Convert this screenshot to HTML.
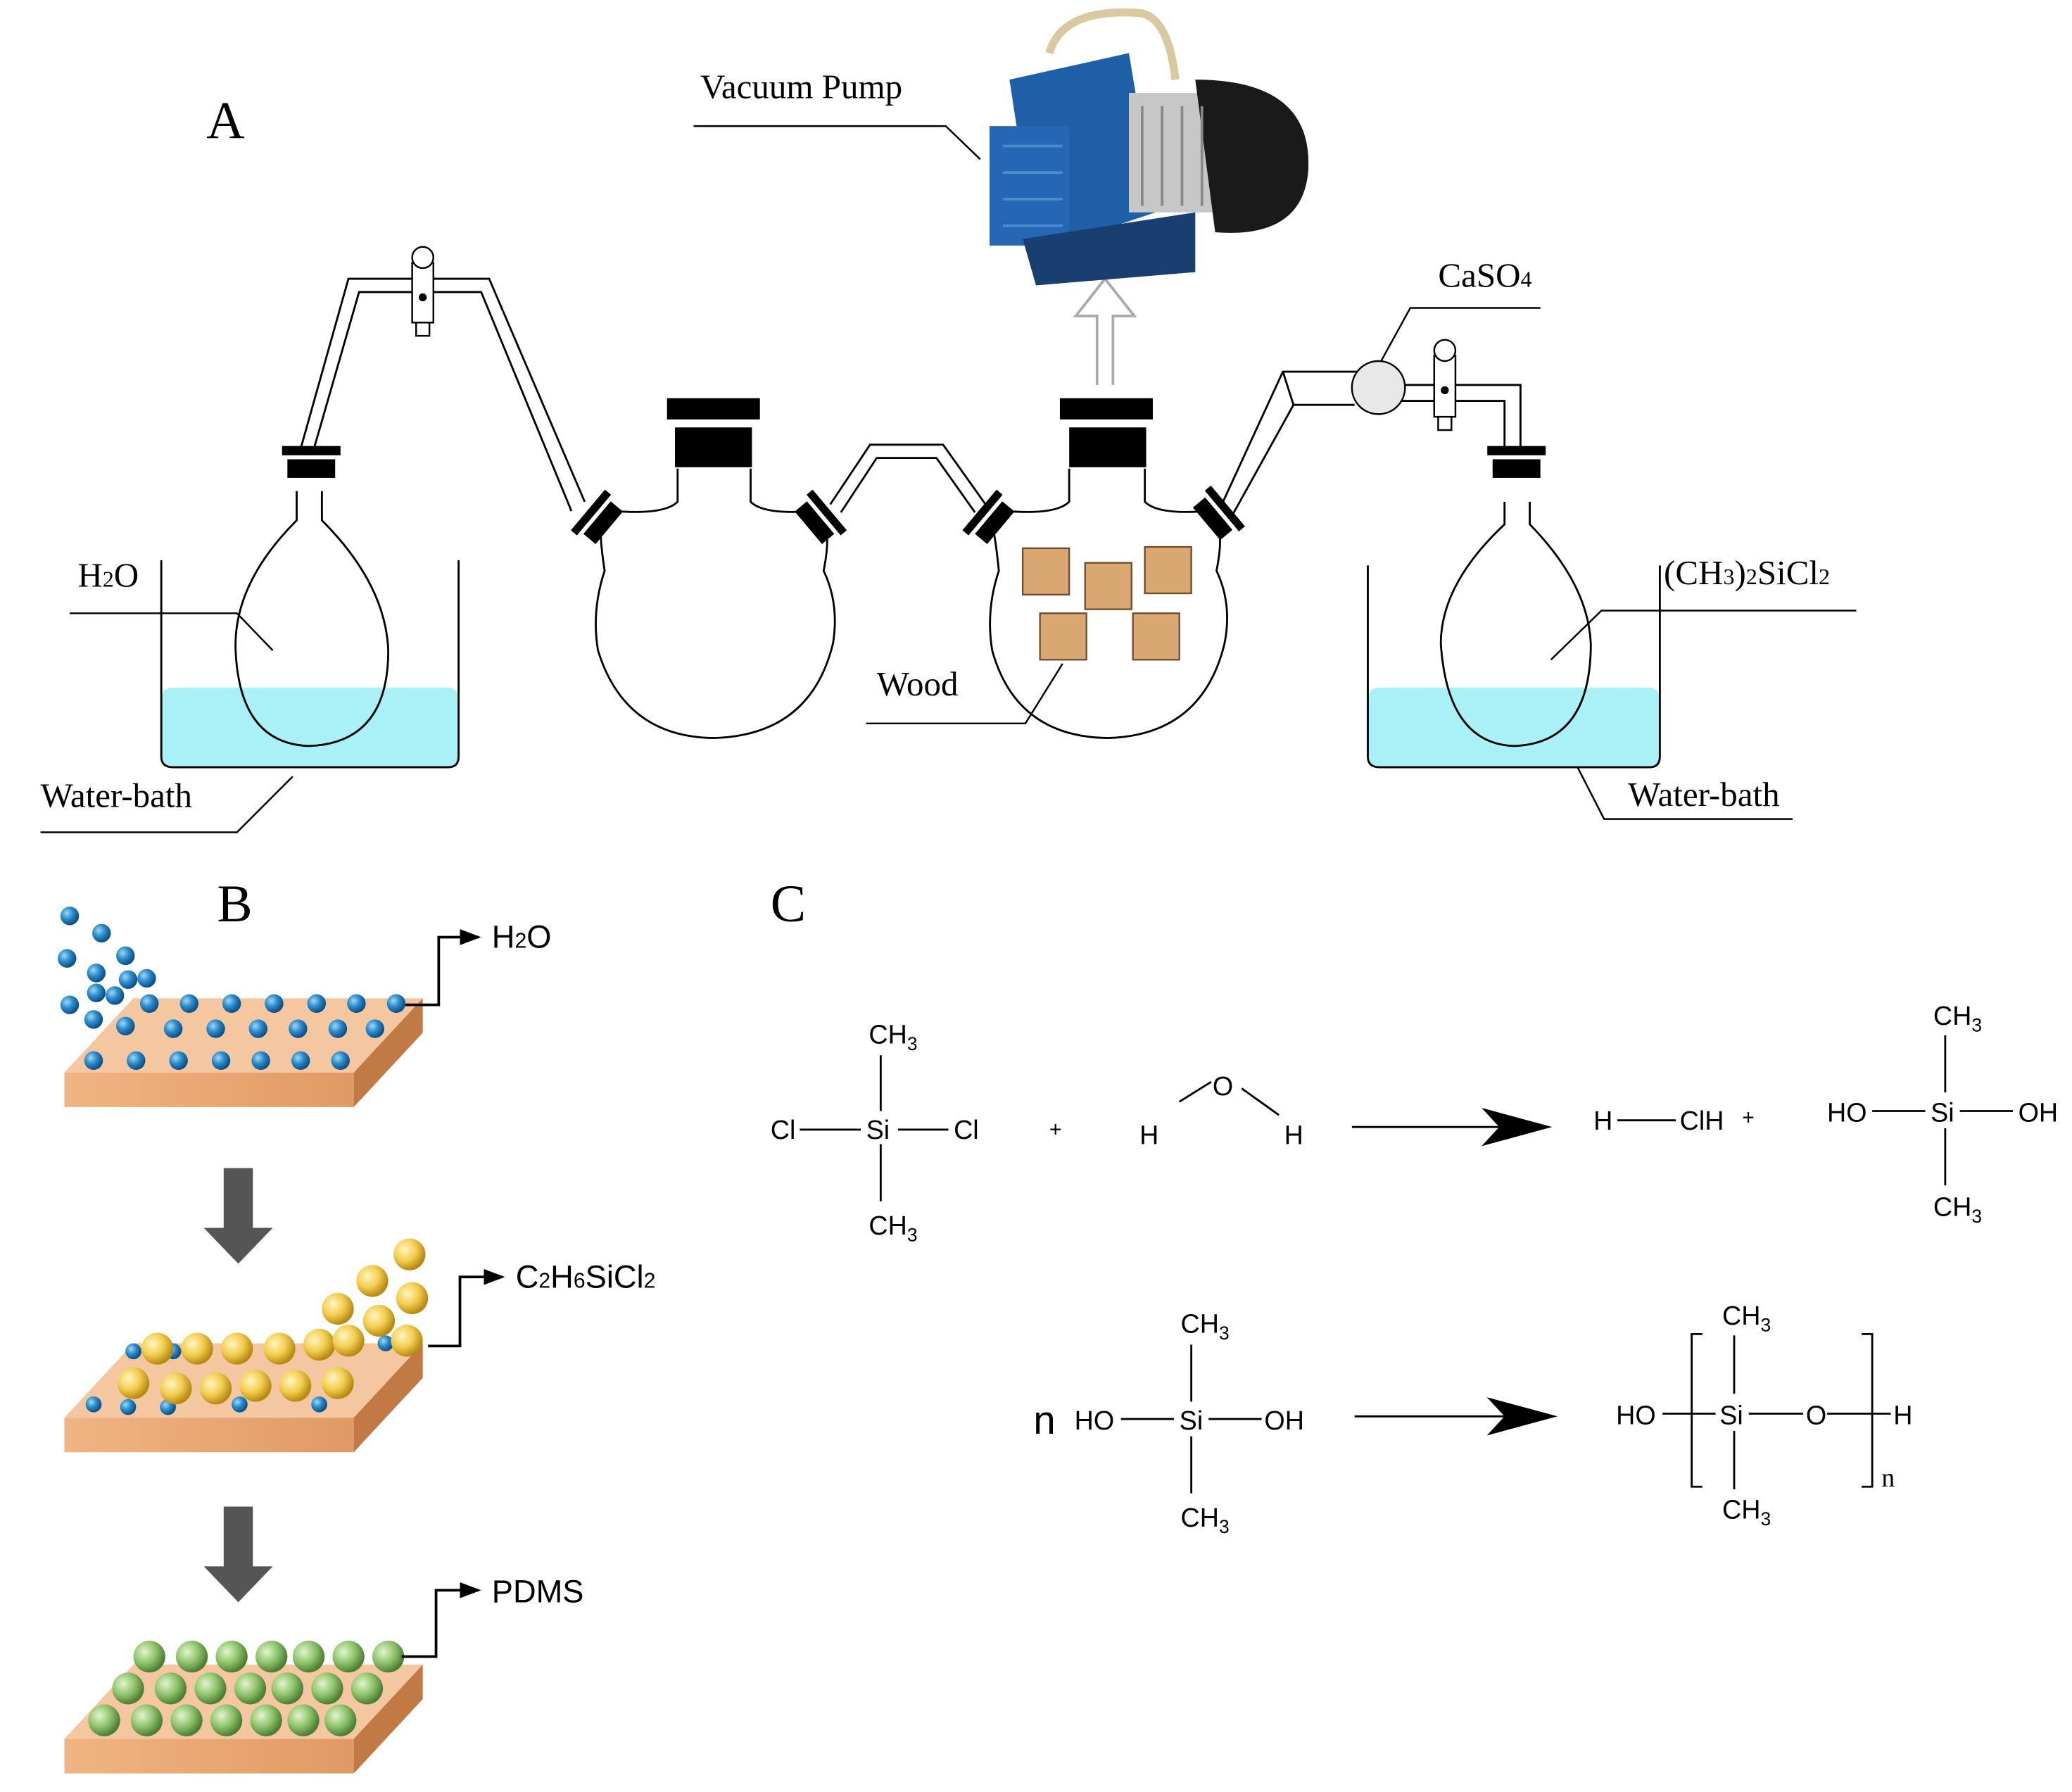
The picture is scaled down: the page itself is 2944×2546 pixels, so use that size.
<!DOCTYPE html>
<html><head><meta charset="utf-8"><style>html,body{margin:0;padding:0;background:#fff}svg{display:block}</style></head><body>
<svg width="2944" height="2546" viewBox="0 0 1560 1350" xmlns="http://www.w3.org/2000/svg">
<defs>
<radialGradient id="bl" cx="35%" cy="35%" r="65%"><stop offset="0" stop-color="#9fd8f5"/><stop offset=".5" stop-color="#2a8ccc"/><stop offset="1" stop-color="#0d4f86"/></radialGradient>
<radialGradient id="ye" cx="35%" cy="35%" r="65%"><stop offset="0" stop-color="#fff6c0"/><stop offset=".55" stop-color="#f2cd4e"/><stop offset="1" stop-color="#b88a12"/></radialGradient>
<radialGradient id="gr" cx="35%" cy="35%" r="65%"><stop offset="0" stop-color="#e2f5cc"/><stop offset=".55" stop-color="#8fc46c"/><stop offset="1" stop-color="#4d7f34"/></radialGradient>
<linearGradient id="wt" x1="0" y1="0" x2="1" y2="0"><stop offset="0" stop-color="#f0b483"/><stop offset="1" stop-color="#e09a64"/></linearGradient>
<marker id="ah" markerWidth="8" markerHeight="8" refX="7" refY="4" orient="auto"><path d="M0,1 L8,4 L0,7z" fill="#000"/></marker>
<marker id="big" markerWidth="10" markerHeight="6" refX="10" refY="3" orient="auto" markerUnits="userSpaceOnUse"><path d="M0,0 L10,3 L0,6 L3,3z" fill="#000"/></marker>
</defs>
<g font-family="Liberation Serif, serif" fill="#000">
<text x="155" y="104" font-size="40">A</text>
<text x="527" y="74" font-size="26">Vacuum Pump</text>
<text x="58" y="442" font-size="26">H<tspan font-size="17">2</tspan>O</text>
<text x="30" y="608" font-size="26">Water-bath</text>
<text x="660" y="524" font-size="26">Wood</text>
<text x="1083" y="216" font-size="26">CaSO<tspan font-size="17">4</tspan></text>
<text x="1253" y="440" font-size="26">(CH<tspan font-size="17">3</tspan>)<tspan font-size="17">2</tspan>SiCl<tspan font-size="17">2</tspan></text>
<text x="1226" y="607" font-size="26">Water-bath</text>
<text x="163" y="694" font-size="40">B</text>
<text x="580" y="694" font-size="40">C</text>
</g>
<g fill="none" stroke="#000" stroke-width="1.3">
<!-- leader lines -->
<path d="M522,95 H712 L738,120"/>
<path d="M52,462 H178 L205,490"/>
<path d="M30,627 H178 L220,585"/>
<path d="M652,545 H772 L800,500"/>
<path d="M1160,232 H1062 L1040,272"/>
<path d="M1398,460 H1206 L1168,497"/>
<path d="M1350,617 H1208 L1188,578"/>
</g>
<!-- beakers -->
<rect x="121" y="518" width="224" height="60" rx="8" fill="#a9f1f6"/>
<rect x="1030" y="518" width="220" height="60" rx="8" fill="#a9f1f6"/>
<g fill="none" stroke="#000" stroke-width="1.5">
<path d="M121,422 V570 Q121,578 130,578 H337 Q345,578 345,570 V422"/>
<path d="M1030,426 V570 Q1030,578 1039,578 H1242 Q1250,578 1250,570 V426"/>
<!-- left flask -->
<path d="M223,370 V392 Q175,440 177,490 Q180,560 232,562 Q292,560 292,490 Q290,440 242,392 V370"/>
<!-- right flask -->
<path d="M1133,378 V395 Q1085,440 1085,485 Q1090,560 1140,562 Q1198,560 1198,485 Q1196,440 1152,395 V378"/>
<!-- flask1 -->
<path d="M510,353 V378 Q500,388 462,385 L452,400 Q452,410 455,430 Q445,460 450,490 Q470,555 537,556 Q610,554 627,485 Q632,455 620,430 Q624,410 622,400 L612,385 Q575,388 565,378 V353"/>
<!-- flask2 -->
<path d="M805,353 V378 Q795,388 758,385 L748,400 Q750,410 752,430 Q742,460 747,490 Q765,555 834,556 Q905,554 922,485 Q928,455 916,430 Q920,410 918,400 L908,385 Q872,388 862,378 V353"/>
<!-- tubes -->
<path d="M226,338 L262,210 H368 L440,378"/>
<path d="M236,338 L270,220 H362 L430,385"/>
<path d="M625,380 L655,335 H710 L742,380"/>
<path d="M633,386 L660,345 H705 L734,386"/>
<path d="M920,380 L966,280 H1022"/>
<path d="M928,388 L974,305 H1020"/>
<path d="M1055,290 H1145 V338"/>
<path d="M1055,302 H1133 V338"/>
<path d="M966,280 L974,305"/>
</g>
<!-- stoppers -->
<g fill="#000">
<rect x="212" y="336" width="44" height="7"/><rect x="216" y="346" width="36" height="14"/>
<rect x="1120" y="336" width="44" height="7"/><rect x="1124" y="346" width="36" height="14"/>
<rect x="502" y="300" width="70" height="16"/><rect x="508" y="322" width="58" height="30"/>
<rect x="798" y="300" width="70" height="16"/><rect x="805" y="322" width="58" height="30"/>
<g transform="translate(447,388) rotate(-50)"><rect x="-20" y="-6" width="40" height="6"/><rect x="-16" y="3" width="32" height="12"/></g>
<g transform="translate(620,388) rotate(50)"><rect x="-20" y="-6" width="40" height="6"/><rect x="-16" y="3" width="32" height="12"/></g>
<g transform="translate(742,388) rotate(-50)"><rect x="-20" y="-6" width="40" height="6"/><rect x="-16" y="3" width="32" height="12"/></g>
<g transform="translate(920,385) rotate(50)"><rect x="-20" y="-6" width="40" height="6"/><rect x="-16" y="3" width="32" height="12"/></g>
</g>
<!-- valves -->
<g fill="#fff" stroke="#000" stroke-width="1.3">
<rect x="310" y="198" width="16" height="45"/><circle cx="318" cy="194" r="8"/><rect x="313" y="243" width="10" height="10"/>
<rect x="1080" y="268" width="16" height="46"/><circle cx="1088" cy="264" r="8"/><rect x="1083" y="314" width="10" height="10"/>
<circle cx="1038" cy="292" r="20" fill="#e8e8e8"/>
</g>
<circle cx="318" cy="224" r="3"/><circle cx="1088" cy="294" r="3"/>
<!-- hollow arrow -->
<path d="M826,290 V238 H810 L832,210 L854,238 H838 V290" fill="#fff" stroke="#aaa" stroke-width="2"/>
<!-- pump -->
<path d="M790,40 Q800,5 860,10 Q880,15 885,60" fill="none" stroke="#d8c9a0" stroke-width="6"/>
<path d="M760,60 L850,40 L870,160 L780,190z" fill="#1f5fa8"/>
<rect x="745" y="95" width="60" height="90" fill="#2468b5"/>
<path d="M770,180 L900,160 L900,205 L780,215z" fill="#183f70"/>
<rect x="850" y="70" width="70" height="90" fill="#c7c7c7"/>
<path d="M900,60 Q990,60 985,130 Q980,180 915,175z" fill="#1a1a1a"/>
<g stroke="#888" stroke-width="2"><line x1="860" y1="80" x2="860" y2="155"/><line x1="875" y1="80" x2="875" y2="155"/><line x1="890" y1="80" x2="890" y2="155"/><line x1="905" y1="80" x2="905" y2="155"/></g>
<g stroke="#4a8ad0" stroke-width="2"><line x1="755" y1="110" x2="800" y2="110"/><line x1="755" y1="130" x2="800" y2="130"/><line x1="755" y1="150" x2="800" y2="150"/><line x1="755" y1="170" x2="800" y2="170"/></g>
<!-- wood blocks -->
<g fill="#d9a872" stroke="#6b4a2a" stroke-width="1.2">
<rect x="770" y="413" width="35" height="35"/><rect x="817" y="424" width="35" height="35"/><rect x="862" y="412" width="35" height="35"/>
<rect x="783" y="462" width="35" height="35"/><rect x="853" y="462" width="35" height="35"/>
</g>
<!-- B section plates -->
<g id="p1">
<path d="M48,808 L100,752 H318 L266,808z" fill="#f4c7a0"/>
<rect x="48" y="808" width="218" height="26" fill="url(#wt)"/>
<path d="M266,808 L318,752 V778 L266,834z" fill="#c27a45"/>
</g>
<path d="M48,1068 L100,1012 H318 L266,1068z" fill="#f4c7a0"/>
<rect x="48" y="1068" width="218" height="26" fill="url(#wt)"/>
<path d="M266,1068 L318,1012 V1038 L266,1094z" fill="#c27a45"/>
<path d="M48,1310 L100,1254 H318 L266,1310z" fill="#f4c7a0"/>
<rect x="48" y="1310" width="218" height="26" fill="url(#wt)"/>
<path d="M266,1310 L318,1254 V1280 L266,1336z" fill="#c27a45"/>
<!-- blue dots plate1 -->
<g fill="url(#bl)">
<circle cx="52" cy="690" r="7"/><circle cx="76" cy="703" r="7"/><circle cx="50" cy="722" r="7"/><circle cx="94" cy="720" r="7"/><circle cx="72" cy="733" r="7"/><circle cx="96" cy="738" r="7"/><circle cx="110" cy="737" r="7"/><circle cx="72" cy="748" r="7"/><circle cx="86" cy="750" r="7"/><circle cx="52" cy="757" r="7"/><circle cx="70" cy="768" r="7"/><circle cx="94" cy="773" r="7"/>
<circle cx="112" cy="756" r="7"/><circle cx="142" cy="756" r="7"/><circle cx="174" cy="756" r="7"/><circle cx="206" cy="756" r="7"/><circle cx="238" cy="756" r="7"/><circle cx="268" cy="756" r="7"/><circle cx="298" cy="756" r="7"/>
<circle cx="130" cy="775" r="7"/><circle cx="162" cy="775" r="7"/><circle cx="194" cy="775" r="7"/><circle cx="224" cy="775" r="7"/><circle cx="254" cy="775" r="7"/><circle cx="282" cy="775" r="7"/>
<circle cx="70" cy="799" r="7"/><circle cx="102" cy="799" r="7"/><circle cx="134" cy="799" r="7"/><circle cx="166" cy="799" r="7"/><circle cx="196" cy="799" r="7"/><circle cx="226" cy="799" r="7"/><circle cx="256" cy="799" r="7"/>
<circle cx="100" cy="1018" r="6"/><circle cx="130" cy="1018" r="6"/><circle cx="70" cy="1058" r="6"/><circle cx="96" cy="1060" r="6"/><circle cx="126" cy="1060" r="6"/><circle cx="180" cy="1058" r="6"/><circle cx="240" cy="1058" r="6"/><circle cx="290" cy="1012" r="6"/>
</g>
<g fill="url(#ye)">
<circle cx="308" cy="945" r="12"/><circle cx="280" cy="965" r="12"/><circle cx="310" cy="978" r="12"/><circle cx="254" cy="986" r="12"/><circle cx="285" cy="995" r="12"/><circle cx="306" cy="1010" r="12"/>
<circle cx="118" cy="1016" r="12"/><circle cx="148" cy="1016" r="12"/><circle cx="178" cy="1016" r="12"/><circle cx="210" cy="1016" r="12"/><circle cx="240" cy="1013" r="12"/><circle cx="262" cy="1010" r="12"/>
<circle cx="100" cy="1042" r="12"/><circle cx="132" cy="1046" r="12"/><circle cx="162" cy="1046" r="12"/><circle cx="192" cy="1044" r="12"/><circle cx="222" cy="1044" r="12"/><circle cx="254" cy="1042" r="12"/>
</g>
<g fill="url(#gr)">
<circle cx="112" cy="1248" r="12"/><circle cx="144" cy="1248" r="12"/><circle cx="174" cy="1248" r="12"/><circle cx="204" cy="1248" r="12"/><circle cx="232" cy="1248" r="12"/><circle cx="262" cy="1248" r="12"/><circle cx="292" cy="1248" r="12"/>
<circle cx="96" cy="1272" r="12"/><circle cx="128" cy="1272" r="12"/><circle cx="158" cy="1272" r="12"/><circle cx="188" cy="1272" r="12"/><circle cx="216" cy="1272" r="12"/><circle cx="246" cy="1272" r="12"/><circle cx="276" cy="1272" r="12"/>
<circle cx="78" cy="1296" r="12"/><circle cx="110" cy="1296" r="12"/><circle cx="140" cy="1296" r="12"/><circle cx="170" cy="1296" r="12"/><circle cx="200" cy="1296" r="12"/><circle cx="228" cy="1296" r="12"/><circle cx="256" cy="1296" r="12"/>
</g>
<!-- gray arrows -->
<path d="M168,880 H190 V925 H205 L179,952 L153,925 H168z" fill="#555"/>
<path d="M168,1135 H190 V1180 H205 L179,1207 L153,1180 H168z" fill="#555"/>
<!-- B labels -->
<g fill="none" stroke="#000" stroke-width="2">
<path d="M305,757 H330 V706 H360" marker-end="url(#ah)"/>
<path d="M322,1014 H346 V962 H378" marker-end="url(#ah)"/>
<path d="M302,1248 H328 V1198 H360" marker-end="url(#ah)"/>
</g>
<g font-family="Liberation Sans, sans-serif" font-size="24" fill="#000">
<text x="370" y="714">H<tspan font-size="16">2</tspan>O</text>
<text x="388" y="970">C<tspan font-size="16">2</tspan>H<tspan font-size="16">6</tspan>SiCl<tspan font-size="16">2</tspan></text>
<text x="370" y="1207">PDMS</text>
</g>
<!-- C chemistry -->
<g font-family="Liberation Sans, sans-serif" font-size="20" fill="#000">
<text x="654" y="786">CH<tspan font-size="14" dy="5">3</tspan></text>
<text x="580" y="858">Cl</text><text x="652" y="858">Si</text><text x="718" y="858">Cl</text>
<text x="654" y="930">CH<tspan font-size="14" dy="5">3</tspan></text>
<text x="790" y="856" font-size="16">+</text>
<text x="858" y="862">H</text><text x="913" y="825">O</text><text x="967" y="862">H</text>
<text x="1200" y="851">H</text><text x="1265" y="851">ClH</text><text x="1312" y="847" font-size="16">+</text>
<text x="1456" y="772">CH<tspan font-size="14" dy="5">3</tspan></text>
<text x="1376" y="845">HO</text><text x="1454" y="845">Si</text><text x="1520" y="845">OH</text>
<text x="1456" y="916">CH<tspan font-size="14" dy="5">3</tspan></text>
<text x="778" y="1080" font-size="30">n</text>
<text x="889" y="1004">CH<tspan font-size="14" dy="5">3</tspan></text>
<text x="809" y="1077">HO</text><text x="888" y="1077">Si</text><text x="952" y="1077">OH</text>
<text x="889" y="1150">CH<tspan font-size="14" dy="5">3</tspan></text>
<text x="1297" y="998">CH<tspan font-size="14" dy="5">3</tspan></text>
<text x="1217" y="1073">HO</text><text x="1295" y="1073">Si</text><text x="1360" y="1073">O</text><text x="1426" y="1073">H</text>
<text x="1297" y="1144">CH<tspan font-size="14" dy="5">3</tspan></text>
<text x="1417" y="1120" font-family="Liberation Serif, serif">n</text>
</g>
<g stroke="#000" stroke-width="1.5" fill="none">
<line x1="663" y1="795" x2="663" y2="837"/><line x1="663" y1="862" x2="663" y2="905"/>
<line x1="602" y1="851" x2="648" y2="851"/><line x1="676" y1="851" x2="714" y2="851"/>
<line x1="888" y1="830" x2="912" y2="815"/><line x1="935" y1="820" x2="963" y2="840"/>
<line x1="1018" y1="849" x2="1150" y2="849"/><path d="M1118,836 L1166,849 L1118,862 L1130,849z" fill="#000"/>
<line x1="1218" y1="844" x2="1262" y2="844"/>
<line x1="1465" y1="780" x2="1465" y2="823"/><line x1="1465" y1="850" x2="1465" y2="893"/>
<line x1="1410" y1="837" x2="1450" y2="837"/><line x1="1476" y1="837" x2="1516" y2="837"/>
<line x1="897" y1="1013" x2="897" y2="1056"/><line x1="897" y1="1082" x2="897" y2="1125"/>
<line x1="844" y1="1069" x2="884" y2="1069"/><line x1="910" y1="1069" x2="950" y2="1069"/>
<line x1="1020" y1="1067" x2="1150" y2="1067"/><path d="M1122,1054 L1170,1067 L1122,1080 L1134,1067z" fill="#000"/>
<line x1="1252" y1="1065" x2="1292" y2="1065"/><line x1="1317" y1="1065" x2="1358" y2="1065"/><line x1="1376" y1="1065" x2="1424" y2="1065"/>
<line x1="1306" y1="1006" x2="1306" y2="1050"/><line x1="1306" y1="1078" x2="1306" y2="1122"/>
<path d="M1282,1005 H1274 V1120 H1282"/><path d="M1402,1005 H1410 V1120 H1402"/>
</g>
</svg>
</body></html>
